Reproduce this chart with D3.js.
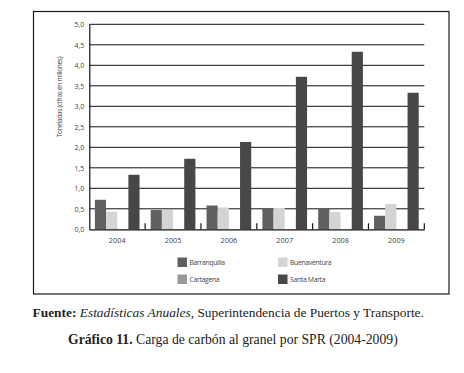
<!DOCTYPE html>
<html><head><meta charset="utf-8">
<script src="https://cdn.jsdelivr.net/npm/d3@7"></script>
<style>body{margin:0;background:#fff;}svg{display:block;}</style>
</head><body>
<script>
const years = ["2004","2005","2006","2007","2008","2009"];
const seriesNames = ["Barranquilla","Buenaventura","Cartagena","Santa Marta"];
const barranquilla = [0.72,0.47,0.58,0.52,0.52,0.33];
const buenaventura = [0.43,0.47,0.53,0.52,0.42,0.62];
const cartagena    = [0,0,0,0,0,0];
const santaMarta   = [1.33,1.72,2.13,3.72,4.33,3.33];
const yTicks = [0,0.5,1,1.5,2,2.5,3,3.5,4,4.5,5];
const colors = ["#606060","#d4d4d4","#9a9a9a","#474747"];

(function(){
const seriesVals = [barranquilla,buenaventura,cartagena,santaMarta];
const data = years.map((y,i)=>({year:y, vals:seriesNames.map((s,j)=>({name:s, v:seriesVals[j][i], c:colors[j]}))}));

const W=464,H=373;
const svg=d3.select("body").append("svg").attr("width",W).attr("height",H);
const mL=89.3,mR=424.3,mT=24.3,mB=229.3;

svg.append("rect").attr("x",33.5).attr("y",11.5).attr("width",415.5).attr("height",282.5)
  .attr("fill","none").attr("stroke","#1a1a1a").attr("stroke-width",1.2);

const x=d3.scaleBand().domain(years).range([mL,mR]).paddingInner(0).paddingOuter(0);
const x1=d3.scaleBand().domain(seriesNames).range([0,x.bandwidth()]).paddingOuter(0.5).paddingInner(0);
const y=d3.scaleLinear().domain([0,5]).range([mB,mT]);

svg.append("g").selectAll("line").data(yTicks.filter(d=>d>0)).join("line")
  .attr("x1",mL).attr("x2",mR).attr("y1",d=>y(d)).attr("y2",d=>y(d))
  .attr("stroke","#111").attr("stroke-width",1);

const g=svg.append("g").selectAll("g").data(data).join("g").attr("transform",d=>`translate(${x(d.year)},0)`);
g.selectAll("rect").data(d=>d.vals.filter(v=>v.v>0)).join("rect")
  .attr("x",d=>x1(d.name)).attr("width",x1.bandwidth())
  .attr("y",d=>y(d.v)).attr("height",d=>y(0)-y(d.v)).attr("fill",d=>d.c);

const yAxis=svg.append("g").attr("transform",`translate(${mL},0)`)
  .call(d3.axisLeft(y).tickValues(yTicks).tickSize(0).tickPadding(5).tickFormat(d=>d3.format(".1f")(d).replace(".",",")));
yAxis.select(".domain").attr("stroke","#111").attr("stroke-width",1.2);
yAxis.selectAll("text").attr("font-family","Open Sans").attr("font-size",7).attr("fill","#444");

const xAxis=svg.append("g").attr("transform",`translate(0,${mB})`)
  .call(d3.axisBottom(x).tickSize(0).tickPadding(9));
xAxis.select(".domain").attr("stroke","#111").attr("stroke-width",1.2);
xAxis.selectAll("text").attr("font-family","Open Sans").attr("font-size",7.3).attr("fill","#444");
svg.append("g").selectAll("line").data(years.slice(1).concat(["end"])).join("line")
  .attr("x1",d=>d==="end"?mR:x(d)).attr("x2",d=>d==="end"?mR:x(d))
  .attr("y1",mB).attr("y2",mB-6).attr("stroke","#111").attr("stroke-width",1.2);

svg.append("text").attr("transform","translate(62,97) rotate(-90)").attr("text-anchor","middle")
  .attr("font-family","Open Sans").attr("font-size",6.5).attr("fill","#444").attr("letter-spacing",-0.3)
  .text("Toneladas (cifras en millones)");

const lg=svg.append("g").selectAll("g").data(seriesNames).join("g")
  .attr("transform",(d,i)=>`translate(${i%2===0?177.5:278},${i<2?257.5:274.5})`);
lg.append("rect").attr("width",9.5).attr("height",9.5).attr("fill",(d,i)=>colors[i]);
lg.append("text").attr("x",12).attr("y",7.5).attr("font-family","Open Sans").attr("font-size",6.8)
  .attr("fill","#444").attr("letter-spacing",-0.3).text(d=>d);

const src=svg.append("text").attr("x",32.5).attr("y",317).attr("font-family","Liberation Serif").attr("font-size",13.4).attr("fill","#222");
src.append("tspan").attr("font-weight","bold").text("Fuente:");
src.append("tspan").attr("font-style","italic").text(" Estadísticas Anuales,");
src.append("tspan").text(" Superintendencia de Puertos y Transporte.");

const tt=svg.append("text").attr("x",68).attr("y",344).attr("font-family","Liberation Serif").attr("font-size",13.7).attr("fill","#222");
tt.append("tspan").attr("font-weight","bold").text("Gráfico 11.");
tt.append("tspan").text(" Carga de carbón al granel por SPR (2004-2009)");
})();
</script>
</body></html>
